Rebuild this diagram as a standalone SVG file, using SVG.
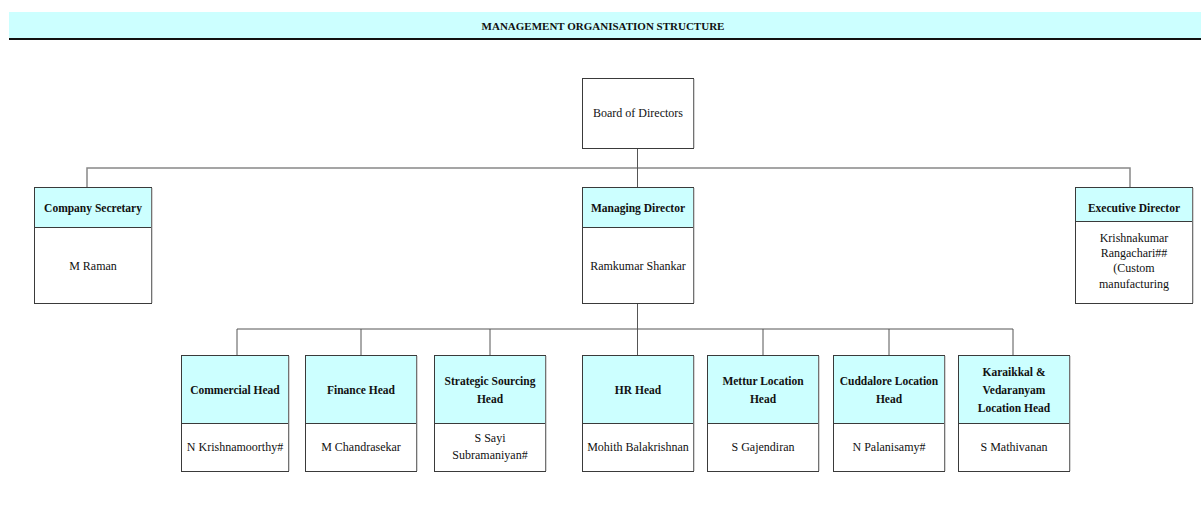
<svg xmlns="http://www.w3.org/2000/svg" width="1201" height="506" viewBox="0 0 1201 506">
<style>
.hd{fill:#CCFFFF;stroke:#3a3a3a;stroke-width:1}
.bd{fill:#FFFFFF;stroke:#3a3a3a;stroke-width:1}
.bx{fill:#FFFFFF;stroke:#3a3a3a;stroke-width:1}
.sh{fill:none;stroke:#aaaaaa;stroke-width:1}
.t{font-family:"Liberation Serif",serif;font-size:12px;fill:#111;text-anchor:middle;dominant-baseline:central}
.b{font-family:"Liberation Serif",serif;font-size:11.5px;font-weight:bold;fill:#111;text-anchor:middle;dominant-baseline:central}
.c{fill:none;stroke:#555;stroke-width:1}
.c2{fill:none;stroke:#888;stroke-width:1.5}
</style>
<g id="title">
<rect x="9" y="12" width="1192" height="27" fill="#CCFFFF"/>
<line x1="9" y1="39" x2="1201" y2="39" stroke="#111" stroke-width="2"/>
<text x="603" y="26" class="b" style="font-size:11px">MANAGEMENT ORGANISATION STRUCTURE</text>
</g>
<g id="connectors">
<path class="c2" d="M87,187 V168 H1130 V187"/>
<path class="c" d="M637.5,148 V187"/>
<path class="c" d="M637.5,303 V329"/>
<path class="c" d="M237,355 V329 H1013 V355"/>
<path class="c" d="M361,329 V355 M490,329 V355 M637.5,329 V355 M763,329 V355 M889,329 V355"/>
</g>
<g id="board">
<rect class="bx" x="582.5" y="78.5" width="111" height="70"/>
<line class="sh" x1="694" y1="79" x2="694" y2="148"/>
<text class="t" x="638" y="113">Board of Directors</text>
</g>
<g id="company-secretary">
<rect class="hd" x="34.5" y="187.5" width="117" height="40"/>
<rect class="bd" x="34.5" y="227.5" width="117" height="76"/>
<line class="sh" x1="152" y1="188" x2="152" y2="303"/>
<text class="b" x="93" y="208">Company Secretary</text>
<text class="t" x="93" y="266">M Raman</text>
</g>
<g id="managing-director">
<rect class="hd" x="582.5" y="187.5" width="111" height="40"/>
<rect class="bd" x="582.5" y="227.5" width="111" height="76"/>
<line class="sh" x1="694" y1="188" x2="694" y2="303"/>
<text class="b" x="638" y="208">Managing Director</text>
<text class="t" x="638" y="266">Ramkumar Shankar</text>
</g>
<g id="executive-director">
<rect class="hd" x="1075.5" y="187.5" width="117" height="34"/>
<rect class="bd" x="1075.5" y="221.5" width="117" height="82"/>
<line class="sh" x1="1193" y1="188" x2="1193" y2="303"/>
<text class="b" x="1134" y="208">Executive Director</text>
<text class="t" x="1134" y="238">Krishnakumar</text>
<text class="t" x="1134" y="253">Rangachari##</text>
<text class="t" x="1134" y="268">(Custom</text>
<text class="t" x="1134" y="284">manufacturing</text>
</g>
<g id="commercial-head">
<rect class="hd" x="181.5" y="355.5" width="107" height="68"/>
<rect class="bd" x="181.5" y="423.5" width="107" height="48"/>
<line class="sh" x1="289" y1="356" x2="289" y2="471"/>
<text class="b" x="235" y="390">Commercial Head</text>
<text class="t" x="235" y="447">N Krishnamoorthy#</text>
</g>
<g id="finance-head">
<rect class="hd" x="305.5" y="355.5" width="111" height="68"/>
<rect class="bd" x="305.5" y="423.5" width="111" height="48"/>
<line class="sh" x1="417" y1="356" x2="417" y2="471"/>
<text class="b" x="361" y="390">Finance Head</text>
<text class="t" x="361" y="447">M Chandrasekar</text>
</g>
<g id="strategic-sourcing-head">
<rect class="hd" x="434.5" y="355.5" width="111" height="68"/>
<rect class="bd" x="434.5" y="423.5" width="111" height="48"/>
<line class="sh" x1="546" y1="356" x2="546" y2="471"/>
<text class="b" x="490" y="381">Strategic Sourcing</text>
<text class="b" x="490" y="399">Head</text>
<text class="t" x="490" y="438">S Sayi</text>
<text class="t" x="490" y="455">Subramaniyan#</text>
</g>
<g id="hr-head">
<rect class="hd" x="582.5" y="355.5" width="111" height="68"/>
<rect class="bd" x="582.5" y="423.5" width="111" height="48"/>
<line class="sh" x1="694" y1="356" x2="694" y2="471"/>
<text class="b" x="638" y="390">HR Head</text>
<text class="t" x="638" y="447">Mohith Balakrishnan</text>
</g>
<g id="mettur-location-head">
<rect class="hd" x="707.5" y="355.5" width="111" height="68"/>
<rect class="bd" x="707.5" y="423.5" width="111" height="48"/>
<line class="sh" x1="819" y1="356" x2="819" y2="471"/>
<text class="b" x="763" y="381">Mettur Location</text>
<text class="b" x="763" y="399">Head</text>
<text class="t" x="763" y="447">S Gajendiran</text>
</g>
<g id="cuddalore-location-head">
<rect class="hd" x="833.5" y="355.5" width="111" height="68"/>
<rect class="bd" x="833.5" y="423.5" width="111" height="48"/>
<line class="sh" x1="945" y1="356" x2="945" y2="471"/>
<text class="b" x="889" y="381">Cuddalore Location</text>
<text class="b" x="889" y="399">Head</text>
<text class="t" x="889" y="447">N Palanisamy#</text>
</g>
<g id="karaikkal-vedaranyam-location-head">
<rect class="hd" x="958.5" y="355.5" width="111" height="68"/>
<rect class="bd" x="958.5" y="423.5" width="111" height="48"/>
<line class="sh" x1="1070" y1="356" x2="1070" y2="471"/>
<text class="b" x="1014" y="372">Karaikkal &amp;</text>
<text class="b" x="1014" y="390">Vedaranyam</text>
<text class="b" x="1014" y="408">Location Head</text>
<text class="t" x="1014" y="447">S Mathivanan</text>
</g>
</svg>
